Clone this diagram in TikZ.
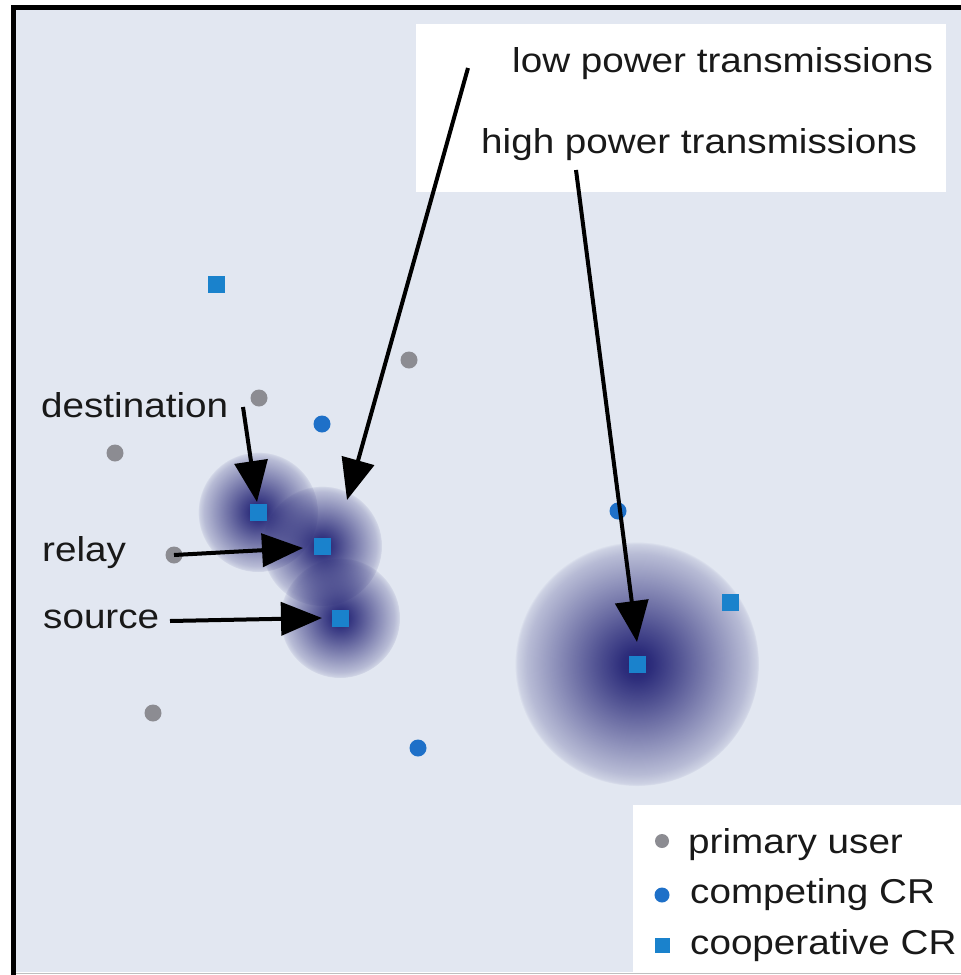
\documentclass[tikz,border=0pt]{standalone}
\usepackage{fontspec}
\setmainfont{Liberation Sans}[FakeStretch=1.12]
\usetikzlibrary{arrows.meta,fadings}

\definecolor{bgcol}{RGB}{226,231,241}
\definecolor{pucol}{RGB}{140,140,146}
\definecolor{crcol}{RGB}{30,112,200}
\definecolor{coopcol}{RGB}{26,130,204}
\definecolor{glowcol}{RGB}{34,34,116}

% radial opacity profile of a transmission footprint
% (the path is fitted to the central 50bp square, so its rim sits at 25bp)
\pgfdeclareradialshading{glowshade}{\pgfpointorigin}{%
  color(0bp)=(white); color(3bp)=(white!94!black); color(7.5bp)=(white!78!black);
  color(15bp)=(white!50!black); color(22.5bp)=(white!22!black);
  color(24.5bp)=(white!10!black); color(25bp)=(black); color(50bp)=(black)}
\pgfdeclarefading{glowfade}{\pgfuseshading{glowshade}}

\tikzset{
  pu/.style={circle, fill=pucol, inner sep=0pt, minimum size=17pt},
  comp/.style={circle, fill=crcol, inner sep=0pt, minimum size=17pt},
  coop/.style={rectangle, fill=coopcol, inner sep=0pt, minimum size=17pt},
  lbl/.style={font=\fontsize{34.5}{40}\selectfont, text=black!90, inner sep=0pt, anchor=base west},
  bigarrow/.style={line width=4pt, -{Triangle[length=41pt,width=33pt]}},
  glow/.style={fill=glowcol, path fading=glowfade},
  panel/.style={fill=white},
}

\begin{document}
\begin{tikzpicture}[x=1pt,y=-1pt]
\useasboundingbox (0,0) rectangle (961,975);

% canvas and frame
\fill[white] (0,0) rectangle (961,975);
\fill[bgcol] (14,8) rectangle (961,972);
\draw[black!25, line width=1pt] (16,973) -- (961,973);
\draw[line width=5pt] (13.5,975) -- (13.5,7.5) -- (961,7.5);

% caption panel
\fill[panel] (416,24) rectangle (946,192);
\node[lbl] (lowlbl)  at (512,72)  {low power transmissions};
\node[lbl] (highlbl) at (481,153) {high power transmissions};

% transmission footprints
\fill[glow] (258,512) circle (60pt);
\fill[glow] (322,546) circle (60pt);
\fill[glow] (340,618) circle (60pt);
\fill[glow] (637,664) circle (122pt);

% primary users
\node[pu] (pu1) at (409,360) {};
\node[pu] (pu2) at (259,398) {};
\node[pu] (pu3) at (115,453) {};
\node[pu] (pu4) at (174,555) {};
\node[pu] (pu5) at (153,713) {};

% competing CRs
\node[comp] (cr1) at (322,424) {};
\node[comp] (cr2) at (618,511) {};
\node[comp] (cr3) at (418,748) {};

% cooperative CRs
\node[coop] (co1) at (216,284) {};
\node[coop] (dst) at (258,512) {};
\node[coop] (rly) at (322,546) {};
\node[coop] (src) at (340,618) {};
\node[coop] (co2) at (730,602) {};
\node[coop] (far) at (637,664) {};

% role labels
\node[lbl] (dstlbl) at (41,417) {destination};
\node[lbl] (rlylbl) at (42,561) {relay};
\node[lbl] (srclbl) at (43,628) {source};

% arrow anchors
\coordinate (lowstart) at (468,68);
\coordinate (lowtip) at (347,500);
\coordinate (highstart) at (576,170);
\coordinate (hightip) at (637,642);
\coordinate (dststart) at (243,407);
\coordinate (dsttip) at (257,502);
\coordinate (rlytip) at (303,548);
\coordinate (srcstart) at (170,621);
\coordinate (srctip) at (322,618);

\draw[bigarrow] (lowstart) -- (lowtip);
\draw[bigarrow] (highstart) -- (hightip);
\draw[bigarrow] (dststart) -- (dsttip);
\draw[bigarrow] (pu4.center) -- (rlytip);
\draw[bigarrow] (srcstart) -- (srctip);

% legend
\fill[panel] (633,805) rectangle (961,973);
\node[pu, minimum size=14pt] (lgpu) at (662,841) {};
\node[comp, minimum size=15pt] (lgcr) at (662,895) {};
\node[coop, minimum size=15pt] (lgco) at (662,945) {};
\node[lbl] (lgputxt) at (688,853) {primary user};
\node[lbl] (lgcrtxt) at (690,903) {competing CR};
\node[lbl] (lgcotxt) at (690,954) {cooperative CR};
\end{tikzpicture}
\end{document}
